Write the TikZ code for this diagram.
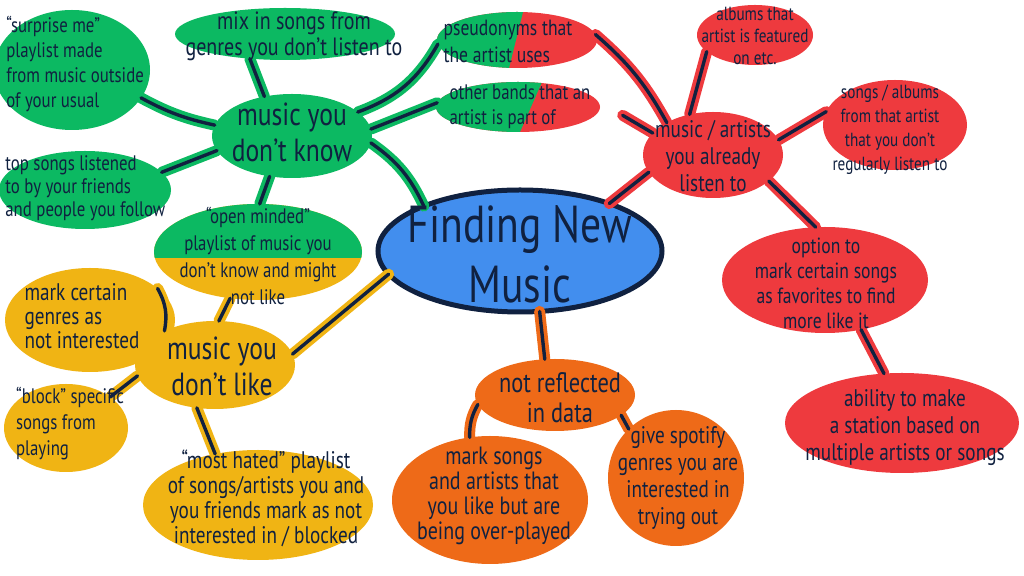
\documentclass[tikz,border=0pt]{standalone}
\usepackage{fontspec}
\setmainfont{PT Sans}[FakeStretch=0.8]
\usetikzlibrary{shapes.geometric,positioning}
\definecolor{mgreen}{RGB}{12,185,98}
\definecolor{mred}{RGB}{238,58,62}
\definecolor{mblue}{RGB}{66,142,238}
\definecolor{morange}{RGB}{238,106,24}
\definecolor{myellow}{RGB}{240,180,20}
\definecolor{ink}{RGB}{16,33,64}

\begin{document}
\begin{tikzpicture}[x=0.5pt, y=-0.5pt,
    blob/.style={ellipse, inner sep=0pt, outer sep=0pt, fill=#1},
    txt/.style={align=center, text=ink, inner sep=0pt},
    link/.style={draw=ink, line width=1.7pt, line cap=round,
        preaction={draw=#1, line width=5.5pt, line cap=round}}
]
\fill[white] (0,0) rectangle (1024,576);
\useasboundingbox (0,0) rectangle (1024,576);

% bubbles
\node[blob=mblue, draw=ink, line width=2.5pt, minimum width=142pt, minimum height=61pt] (find) at (520,251) {};
\node[blob=mgreen, minimum width=80pt, minimum height=42pt] (dk) at (292,136) {};
\node[blob=mgreen, minimum width=110pt, minimum height=26pt] (mix) at (285,34) {};
\node[blob=mgreen, minimum width=78pt, minimum height=60pt] (surprise) at (72,70) {};
\node[blob=mgreen, minimum width=86pt, minimum height=39pt] (tops) at (85,190) {};
\node[blob=myellow, minimum width=104pt, minimum height=48pt,
    path picture={\fill[mgreen] (path picture bounding box.north west) rectangle ([yshift=-3pt]path picture bounding box.east);}] (open) at (258,252) {};
\node[blob=mred, minimum width=80pt, minimum height=28pt,
    path picture={\fill[mgreen] (path picture bounding box.north west) -- ([xshift=3pt]path picture bounding box.north) -- ([xshift=-4pt]path picture bounding box.south) -- (path picture bounding box.south west) -- cycle;}] (pseudo) at (517,40) {};
\node[blob=mred, minimum width=82pt, minimum height=25pt,
    path picture={\fill[mgreen] (path picture bounding box.north west) -- ([xshift=12pt]path picture bounding box.north) -- ([xshift=1pt]path picture bounding box.south) -- (path picture bounding box.south west) -- cycle;}] (others) at (518,107) {};
\node[blob=mred, minimum width=70pt, minimum height=43pt] (known) at (713,155) {};
\node[blob=mred, minimum width=58pt, minimum height=30pt] (albums) at (755,35) {};
\node[blob=mred, minimum width=72pt, minimum height=45pt] (songs) at (895,125) {};
\node[blob=mred, minimum width=103pt, minimum height=53pt] (option) at (825,280) {};
\node[blob=mred, minimum width=117pt, minimum height=50pt] (ability) at (902,423) {};
\node[blob=morange, minimum width=80pt, minimum height=36pt] (nr) at (555,395) {};
\node[blob=morange, minimum width=98pt, minimum height=64pt] (marks) at (490,500) {};
\node[blob=morange, minimum width=68pt, minimum height=68pt] (give) at (676,478) {};
\node[blob=myellow, minimum width=80pt, minimum height=44pt] (dl) at (215,365) {};
\node[blob=myellow, minimum width=85pt, minimum height=52pt] (genres) at (90,320) {};
\node[blob=myellow, minimum width=62pt, minimum height=44pt] (block) at (66,428) {};
\node[blob=myellow, minimum width=115pt, minimum height=55pt] (hated) at (258,505) {};

% strokes
\draw[link=mgreen] (dk.125) -- (mix.-145);
\draw[link=mgreen] (dk.172) to[bend left=8] (surprise.-22);
\draw[link=mgreen] (dk.191) -- (tops.13);
\draw[link=mgreen] (dk.-119) -- (open.88);
\draw[link=mgreen] (dk.20) to[bend right=20] (pseudo.183);
\draw[link=mgreen] (dk.5) -- (others.177);
\draw[link=mgreen] (dk.-5) to[bend left=15] (find.155);
\draw[link=mred] (pseudo.4) to[bend left=10] (known.145);
\draw[link=mred, shorten <=15pt] (others.5) -- (known.160);
\draw[link=mred] (known.120) -- (albums.199);
\draw[link=mred] (known.13) -- (songs.169);
\draw[link=mred] (known.195) -- (find.28);
\draw[link=mred] (known.-25) -- (option.100);
\draw[link=mred] (option.-54) -- (ability.110);
\draw[link=morange] (find.-72) -- (nr.106);
\draw[link=morange] (nr.187) to[bend right=15] (marks.108);
\draw[link=morange] (nr.-17) -- (give.134);
\draw[link=myellow] (dl.85) -- (open.-121);
\draw[link=myellow] (dl.146) to[bend right=20] (genres.25);
\draw[link=myellow] (dl.188) -- (block.35);
\draw[link=myellow] (dl.-113) -- (hated.130);
\draw[link=myellow] (dl.8) -- (find.190);

% texts
\node[txt, font=\fontsize{26}{30}\selectfont] (find-t) at (520,254) {Finding New\\Music};
\node[txt, font=\fontsize{16}{18}\selectfont] (dk-t) at (292,132) {music you\\don't know};
\node[txt, font=\fontsize{12.5}{13}\selectfont] (mix-t) at (294,36) {mix in songs from\\genres you don't listen to};
\node[txt, align=left, anchor=west, font=\fontsize{10.5}{12.5}\selectfont] (surprise-t) at (6,64) {``surprise me''\\playlist made\\from music outside\\of your usual};
\node[txt, align=left, anchor=west, font=\fontsize{10.5}{11.5}\selectfont] (tops-t) at (5,188) {top songs listened\\to by your friends\\and people you follow};
\node[txt, font=\fontsize{10.5}{13.5}\selectfont] (open-t) at (258,256) {``open minded''\\playlist of music you\\don't know and might\\not like};
\node[txt, align=left, font=\fontsize{11}{13.5}\selectfont] (pseudo-t) at (508,41) {pseudonyms that\\the artist uses};
\node[txt, align=left, font=\fontsize{10.5}{12.5}\selectfont] (others-t) at (520,107) {other bands that an\\artist is part of};
\node[txt, font=\fontsize{12}{13.5}\selectfont] (known-t) at (713,156) {music / artists\\you already\\listen to};
\node[txt, font=\fontsize{9.5}{11}\selectfont] (albums-t) at (755,36) {albums that\\artist is featured\\on etc.};
\node[txt, font=\fontsize{9.5}{12}\selectfont] (songs-t) at (890,130) {songs / albums\\from that artist\\that you don't\\regularly listen to};
\node[txt, font=\fontsize{11}{12.5}\selectfont] (option-t) at (826,283) {option to\\mark certain songs\\as favorites to find\\more like it};
\node[txt, font=\fontsize{12}{13.5}\selectfont] (ability-t) at (905,428) {ability to make\\a station based on\\multiple artists or songs};
\node[txt, font=\fontsize{14}{15}\selectfont] (nr-t) at (560,398) {not reflected\\in data};
\node[txt, font=\fontsize{12.5}{12.5}\selectfont] (marks-t) at (494,496) {mark songs\\and artists that\\you like but are\\being over-played};
\node[txt, font=\fontsize{12}{13.5}\selectfont] (give-t) at (678,478) {give spotify\\genres you are\\interested in\\trying out};
\node[txt, font=\fontsize{16}{18}\selectfont] (dl-t) at (222,366) {music you\\don't like};
\node[txt, align=left, font=\fontsize{12}{12}\selectfont] (genres-t) at (82,316) {mark certain\\genres as\\not interested};
\node[txt, align=left, font=\fontsize{10.5}{13}\selectfont] (block-t) at (70,424) {``block'' specific\\songs from\\playing};
\node[txt, font=\fontsize{12}{12.5}\selectfont] (hated-t) at (266,498) {``most hated'' playlist\\of songs/artists you and\\you friends mark as not\\interested in / blocked};
\end{tikzpicture}
\end{document}
